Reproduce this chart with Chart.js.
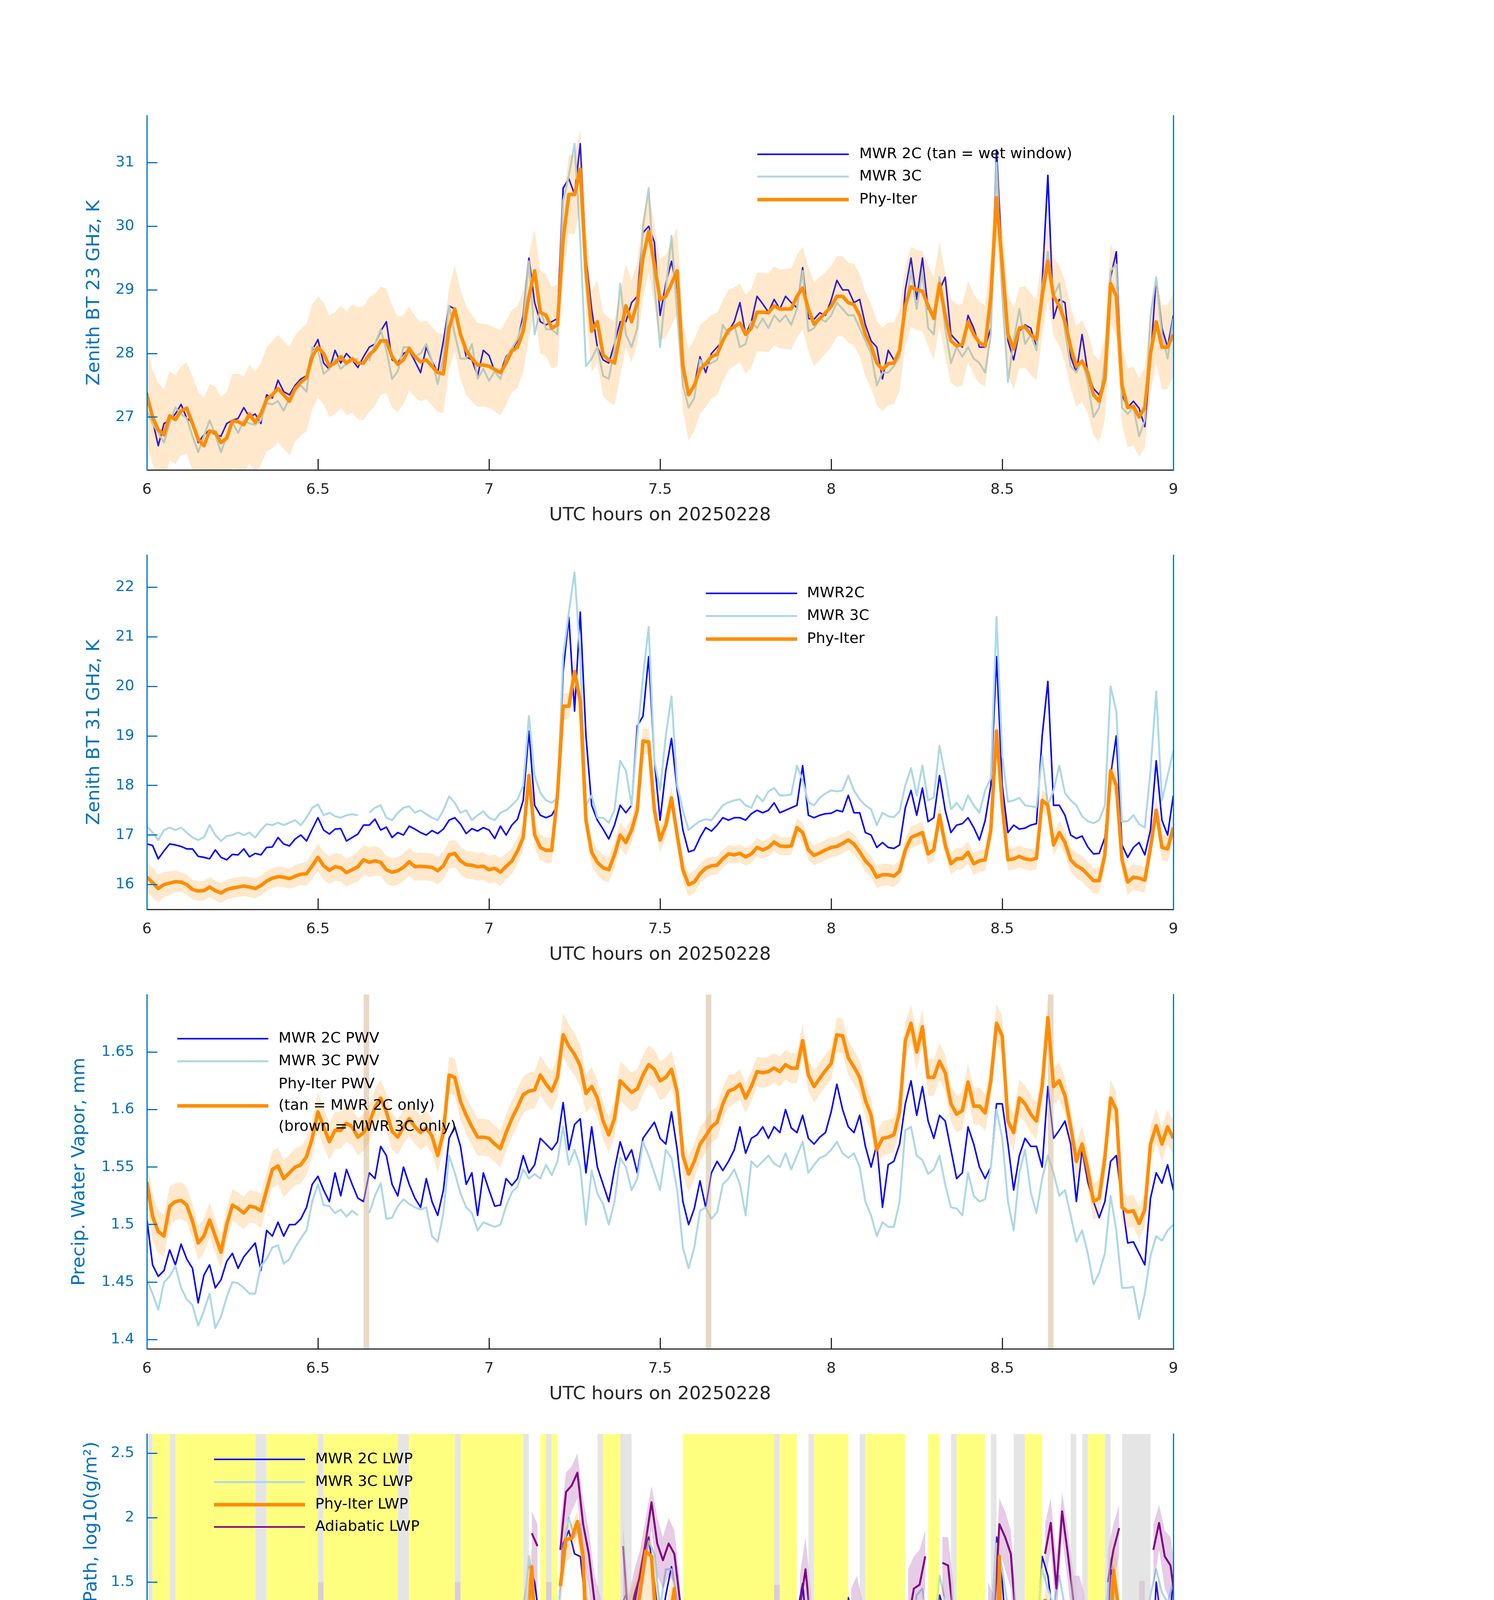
<!DOCTYPE html>
<html><head><meta charset="utf-8">
<script src="https://cdn.jsdelivr.net/npm/chart.js@4.4.1/dist/chart.umd.min.js"></script>
<style>
html,body{margin:0;padding:0;background:#fff;}
body{width:3825px;height:6000px;position:relative;overflow:hidden;}
canvas{position:absolute;left:0;}
</style></head><body>
<canvas id="c1" width="3825" height="1202"></canvas>
<canvas id="c2" width="3825" height="1202"></canvas>
<canvas id="c3" width="3825" height="1202"></canvas>
<canvas id="c4" width="3825" height="1202"></canvas>
<canvas id="c5" width="3825" height="1202"></canvas>
<script>
// ---------------- data ----------------
const T0 = 6;          // first sample, UTC hour
const DT = 1 / 60;     // sample step (1 minute) in hours
const X_TICKS = [6, 6.5, 7, 7.5, 8, 8.5, 9];
const X_TITLE = 'UTC hours on 20250228';

// Panel 1: zenith BT 23 GHz
const P1_Y = [26.17, 31.74];
const P1_TICKS = [27, 28, 29, 30, 31];
const P1_PHY = [27.35,27.0,26.8,26.72,27.02,26.96,27.10,27.14,26.9,26.65,
 26.55,26.78,26.76,26.6,26.67,26.94,26.93,26.88,27.05,26.92,
 27.05,27.28,27.35,27.45,27.35,27.25,27.45,27.55,27.62,27.95,
 28.10,28.0,27.8,27.85,27.95,27.85,27.92,27.85,27.85,27.98,
 28.06,28.2,28.2,27.95,27.83,27.9,28.08,27.95,27.87,27.9,
 27.8,27.7,27.68,28.4,28.7,28.3,28.05,27.92,27.82,27.82,
 27.8,27.75,27.7,27.85,28.04,28.1,28.35,28.9,29.3,28.65,
 28.6,28.4,28.45,29.8,30.5,30.5,30.9,29.3,28.35,28.5,
 27.98,27.9,27.85,28.3,28.75,28.5,28.8,29.5,29.92,29.4,
 28.85,28.9,29.1,29.3,27.8,27.35,27.5,27.75,27.84,27.95,
 27.99,28.2,28.37,28.42,28.48,28.3,28.4,28.65,28.65,28.64,
 28.75,28.7,28.7,28.7,28.9,29.03,28.7,28.46,28.55,28.64,
 28.74,28.9,28.9,28.8,28.77,28.6,28.3,28.12,27.85,27.75,
 27.84,27.85,28.05,28.75,29.05,29.0,28.98,28.75,28.55,29.1,
 28.6,28.2,28.12,28.14,28.5,28.3,28.17,28.12,28.9,30.45,
 29.4,28.3,28.07,28.4,28.42,28.3,28.22,28.9,29.45,28.9,
 28.75,28.5,28.1,27.8,27.88,27.7,27.35,27.25,27.6,29.1,
 28.9,27.5,27.15,27.17,27.0,27.15,28.0,28.5,28.1,28.1,28.3];
const P1_SIG = [0.75,0.75,0.74,0.72,0.7,0.7,0.7,0.72,0.74,0.75,
 0.75,0.74,0.72,0.72,0.72,0.74,0.75,0.76,0.78,0.8,
 0.8,0.82,0.84,0.85,0.85,0.85,0.84,0.84,0.84,0.82,
 0.8,0.8,0.8,0.8,0.8,0.82,0.85,0.88,0.9,0.9,
 0.88,0.85,0.82,0.8,0.75,0.7,0.66,0.64,0.62,0.62,
 0.62,0.62,0.62,0.64,0.68,0.7,0.7,0.68,0.66,0.65,
 0.65,0.66,0.67,0.66,0.65,0.64,0.64,0.65,0.66,0.65,
 0.64,0.64,0.64,0.62,0.62,0.62,0.62,0.63,0.64,0.65,
 0.66,0.66,0.66,0.66,0.65,0.64,0.64,0.64,0.63,0.63,
 0.64,0.65,0.66,0.68,0.7,0.72,0.72,0.7,0.68,0.66,
 0.65,0.64,0.63,0.62,0.62,0.62,0.62,0.62,0.62,0.62,
 0.62,0.62,0.63,0.64,0.65,0.65,0.66,0.66,0.65,0.64,
 0.64,0.63,0.63,0.63,0.64,0.65,0.66,0.66,0.66,0.66,
 0.65,0.64,0.64,0.63,0.63,0.63,0.63,0.64,0.65,0.66,
 0.66,0.66,0.65,0.64,0.64,0.64,0.64,0.64,0.63,0.62,
 0.62,0.63,0.64,0.64,0.64,0.64,0.64,0.63,0.62,0.62,
 0.63,0.64,0.64,0.64,0.64,0.64,0.64,0.64,0.64,0.63,
 0.62,0.62,0.62,0.62,0.62,0.63,0.64,0.65,0.66,0.66,0.66];
const P1_2C = [27.4,26.95,26.55,26.9,26.95,27.05,27.2,26.98,26.92,26.6,
 26.72,26.8,26.72,26.7,26.9,26.95,26.98,27.15,27.0,27.05,
 26.9,27.35,27.3,27.58,27.4,27.35,27.5,27.6,27.65,28.05,
 28.22,27.85,27.75,28.05,27.85,28.0,27.9,27.78,27.95,28.1,
 28.15,28.35,28.5,27.9,27.85,28.0,28.05,27.88,27.7,28.1,
 27.88,27.7,28.2,28.75,28.7,28.35,27.95,27.9,27.65,28.05,
 27.97,27.72,27.7,27.95,28.05,28.2,28.6,29.5,28.8,28.5,
 28.45,28.5,28.55,30.6,30.75,30.5,31.3,29.5,28.7,28.1,
 27.9,27.85,28.15,28.5,28.5,28.8,28.9,29.9,30.0,29.75,
 28.6,29.1,29.45,29.0,27.9,27.35,27.5,27.95,27.7,28.0,
 28.1,28.2,28.35,28.5,28.8,28.3,28.5,28.9,28.78,28.65,
 28.85,28.7,28.9,28.8,28.72,29.35,28.55,28.54,28.64,28.6,
 28.84,29.15,29.0,29.0,28.8,28.85,28.45,28.2,28.1,27.6,
 28.05,27.9,27.95,29.0,29.5,28.85,29.5,28.7,28.63,29.0,
 29.2,28.3,28.2,28.1,28.6,28.4,28.1,28.1,28.4,31.2,
 29.4,28.2,27.9,28.35,28.45,28.4,28.1,29.1,30.8,28.55,
 28.85,28.8,27.95,27.7,28.3,27.7,27.45,27.35,27.6,29.2,
 29.6,27.35,27.15,27.25,27.14,26.85,27.9,29.2,28.4,28.1,28.6];
const P1_3C = [27.1,26.9,26.75,26.6,26.9,27.15,27.05,26.98,26.7,26.45,
 26.7,26.95,26.72,26.45,26.7,26.92,26.75,26.95,26.9,26.88,
 26.95,27.22,27.2,27.25,27.1,27.3,27.42,27.5,27.4,28.1,
 28.05,27.68,27.76,27.92,27.76,27.84,27.88,27.92,null,27.88,
 28.15,28.38,28.05,27.6,27.72,28.1,28.1,27.95,28.0,28.15,
 27.88,27.52,27.96,28.75,28.3,27.92,27.92,28.15,27.6,27.76,
 27.57,27.72,27.6,27.92,28.08,28.23,28.5,29.45,28.3,28.7,
 28.38,28.38,28.3,30.4,30.8,31.3,29.8,27.8,27.92,28.1,
 27.65,27.6,28.08,29.1,28.3,28.1,28.4,30.0,30.6,29.1,
 28.1,29.0,29.85,28.6,27.5,27.15,27.3,27.9,27.8,27.85,
 27.9,28.45,28.3,28.45,28.1,28.15,28.5,28.4,28.55,28.4,
 28.6,28.5,28.6,28.45,28.7,29.3,28.35,28.4,28.55,28.5,
 28.6,28.8,28.7,28.6,28.6,28.4,28.2,28.0,27.5,27.7,
 27.7,27.8,27.95,28.7,29.3,28.7,29.3,28.4,28.3,29.2,
 28.4,27.85,28.1,27.95,28.1,27.92,27.85,27.7,28.3,31.0,
 28.9,27.55,28.2,28.7,28.15,28.3,28.05,29.05,29.6,28.9,
 29.1,28.35,27.8,27.7,27.9,27.55,27.0,27.15,27.9,29.3,
 29.4,27.15,27.05,27.15,26.7,26.95,28.6,29.2,28.3,27.92,28.55];

// Panel 2: zenith BT 31 GHz
const P2_Y = [15.50, 22.65];
const P2_TICKS = [16, 17, 18, 19, 20, 21, 22];
const P2_PHY = [16.15,16.04,15.92,16.0,16.03,16.06,16.05,16.0,15.9,15.87,
 15.88,15.95,15.88,15.83,15.9,15.93,15.95,15.97,15.95,15.92,
 15.98,16.07,16.13,16.16,16.15,16.12,16.17,16.21,16.22,16.38,
 16.55,16.38,16.29,16.36,16.34,16.24,16.3,16.36,16.5,16.45,
 16.48,16.45,16.3,16.25,16.28,16.35,16.46,16.36,16.37,16.36,
 16.35,16.28,16.38,16.6,16.63,16.48,16.4,16.39,16.36,16.37,
 16.3,16.33,16.25,16.37,16.47,16.68,16.95,18.2,17.0,16.75,
 16.69,16.69,17.8,19.6,19.6,20.3,19.7,17.3,16.65,16.45,
 16.34,16.3,16.6,17.0,16.85,17.1,17.5,18.9,18.88,17.5,
 16.9,17.2,17.75,17.0,16.3,16.0,16.05,16.22,16.33,16.38,
 16.39,16.52,16.62,16.6,16.63,16.56,16.62,16.75,16.7,16.75,
 16.86,16.78,16.77,16.78,17.15,17.05,16.7,16.59,16.64,16.7,
 16.75,16.77,16.83,16.9,16.82,16.66,16.48,16.36,16.15,16.2,
 16.2,16.17,16.27,16.7,16.95,17.0,17.05,16.62,16.7,17.4,
 16.8,16.42,16.52,16.53,16.65,16.42,16.48,16.5,17.1,19.1,
 17.6,16.5,16.52,16.57,16.52,16.5,16.53,17.7,17.6,16.8,
 17.05,16.85,16.5,16.38,16.32,16.2,16.08,16.08,16.6,18.3,
 18.0,16.5,16.05,16.15,16.13,16.09,16.75,17.5,16.75,16.72,17.15];
const P2_SIG = [0.3,0.3,0.28,0.25,0.24,0.22,0.2,0.2,0.2,0.2,
 0.2,0.2,0.2,0.2,0.2,0.2,0.2,0.2,0.2,0.2,
 0.2,0.2,0.2,0.2,0.2,0.2,0.22,0.22,0.24,0.26,
 0.28,0.28,0.28,0.28,0.28,0.28,0.28,0.3,0.3,0.3,
 0.3,0.28,0.28,0.28,0.28,0.28,0.28,0.28,0.28,0.28,
 0.28,0.28,0.28,0.28,0.28,0.28,0.28,0.28,0.28,0.28,
 0.28,0.28,0.28,0.26,0.26,0.26,0.26,0.26,0.26,0.26,
 0.26,0.26,0.26,0.26,0.26,0.26,0.26,0.26,0.26,0.26,
 0.26,0.26,0.26,0.26,0.26,0.26,0.26,0.26,0.26,0.26,
 0.26,0.24,0.24,0.24,0.24,0.24,0.22,0.2,0.2,0.18,
 0.18,0.18,0.18,0.18,0.18,0.18,0.18,0.18,0.18,0.18,
 0.18,0.18,0.18,0.18,0.18,0.2,0.2,0.2,0.2,0.2,
 0.2,0.2,0.2,0.2,0.2,0.2,0.22,0.22,0.22,0.22,
 0.22,0.22,0.22,0.22,0.22,0.22,0.22,0.22,0.22,0.22,
 0.22,0.22,0.22,0.22,0.22,0.22,0.22,0.22,0.22,0.22,
 0.22,0.22,0.22,0.22,0.22,0.22,0.22,0.22,0.22,0.22,
 0.24,0.24,0.24,0.26,0.26,0.26,0.26,0.26,0.26,0.26,
 0.26,0.26,0.26,0.26,0.26,0.26,0.26,0.26,0.26,0.26,0.26];
const P2_2C = [16.82,16.79,16.52,16.68,16.82,16.8,16.77,16.72,16.72,16.57,
 16.55,16.52,16.7,16.55,16.5,16.61,16.6,16.72,16.56,16.63,
 16.6,16.75,16.76,16.95,16.82,16.78,16.92,17.0,16.88,17.12,
 17.35,17.1,17.02,17.12,17.13,16.88,16.95,17.02,17.2,17.2,
 17.32,17.1,17.16,16.95,17.05,17.0,17.18,17.12,17.05,17.0,
 17.09,17.03,17.12,17.3,17.35,17.22,17.03,17.13,17.08,17.15,
 17.1,16.93,17.18,17.0,17.2,17.32,17.7,19.1,17.6,17.4,
 17.35,17.4,17.6,20.3,21.4,19.5,21.5,19.0,17.6,17.3,
 17.12,16.92,17.2,17.6,17.45,17.6,19.2,19.4,20.6,18.5,
 17.3,18.3,18.95,17.9,17.1,16.66,16.7,16.95,17.15,17.08,
 17.2,17.35,17.3,17.35,17.35,17.3,17.43,17.5,17.45,17.5,
 17.65,17.45,17.5,17.55,17.6,18.4,17.4,17.35,17.4,17.43,
 17.44,17.5,17.47,17.8,17.45,17.45,17.05,17.0,16.75,16.85,
 16.75,16.73,16.8,17.55,17.9,17.4,17.95,17.27,17.35,18.2,
 17.5,17.05,17.2,17.23,17.35,17.15,16.9,17.29,18.0,20.6,
 18.0,17.05,17.2,17.12,17.14,17.2,17.23,19.0,20.1,17.6,
 17.6,17.4,17.0,16.93,16.98,16.76,16.62,16.63,16.95,18.2,
 19.0,16.8,16.55,16.75,16.85,16.6,17.1,18.5,17.3,17.0,17.8];
const P2_3C = [17.18,17.05,16.9,17.1,17.15,17.1,17.15,17.05,16.95,16.9,
 16.95,17.2,17.0,16.88,16.98,17.0,17.05,17.0,17.05,16.95,
 17.1,17.22,17.2,17.25,17.2,17.25,17.3,17.2,17.35,17.55,
 17.62,17.4,17.45,17.38,17.35,17.4,17.42,17.4,null,17.45,
 17.55,17.6,17.35,17.3,17.45,17.55,17.58,17.45,17.5,17.42,
 17.35,17.3,17.5,17.78,17.65,17.45,17.5,17.3,17.4,17.48,
 17.35,17.3,17.45,17.5,17.6,17.72,18.0,19.4,18.2,17.85,
 17.7,17.65,17.75,20.6,21.5,22.3,20.6,17.6,17.8,17.35,
 17.35,17.25,17.5,18.5,18.3,17.6,19.0,20.2,21.2,18.5,
 17.9,19.0,19.8,18.0,17.5,17.1,17.2,17.28,17.32,17.3,
 17.45,17.6,17.66,17.7,17.72,17.6,17.55,17.8,17.68,17.88,
 17.95,17.8,17.8,17.82,18.4,18.1,17.66,17.6,17.75,17.84,
 17.9,17.88,17.9,18.2,17.9,17.72,17.6,17.52,17.2,17.45,
 17.38,17.36,17.48,18.0,18.35,17.8,18.4,17.7,17.76,18.8,
 18.2,17.52,17.65,17.5,17.8,17.6,17.45,17.9,18.15,21.4,
 18.6,17.67,17.7,17.75,17.6,17.58,17.56,18.6,17.6,17.9,
 18.4,17.85,17.7,17.6,17.38,17.28,17.24,17.3,17.6,20.0,
 19.5,17.27,17.28,17.4,17.22,17.15,18.3,19.9,17.7,18.2,18.7];

// Panel 3: precipitable water vapour
const P3_Y = [1.392, 1.70];
const P3_TICKS = [1.4, 1.45, 1.5, 1.55, 1.6, 1.65];
const P3_WET_K = [38, 98, 158];   // minutes with MWR 2C only (tan)
const P3_PHY = [1.537,1.507,1.494,1.49,1.516,1.520,1.521,1.517,1.503,1.484,
 1.49,1.504,1.49,1.476,1.50,1.517,1.514,1.51,1.516,1.515,
 1.512,1.53,1.548,1.551,1.54,1.545,1.55,1.552,1.559,1.575,
 1.598,1.585,1.572,1.582,1.582,1.588,1.585,1.576,1.58,1.588,
 1.602,1.61,1.598,1.581,1.576,1.585,1.592,1.585,1.58,1.584,
 1.577,1.56,1.58,1.63,1.628,1.607,1.595,1.585,1.576,1.576,
 1.575,1.570,1.566,1.58,1.592,1.602,1.613,1.616,1.617,1.63,
 1.622,1.616,1.628,1.665,1.655,1.648,1.638,1.614,1.62,1.61,
 1.59,1.578,1.592,1.625,1.62,1.615,1.618,1.63,1.639,1.635,
 1.625,1.628,1.635,1.615,1.56,1.544,1.555,1.57,1.577,1.585,
 1.589,1.605,1.616,1.618,1.622,1.61,1.62,1.633,1.632,1.633,
 1.636,1.633,1.639,1.636,1.636,1.66,1.63,1.62,1.627,1.634,
 1.64,1.665,1.664,1.645,1.637,1.628,1.608,1.595,1.565,1.575,
 1.576,1.578,1.598,1.66,1.675,1.65,1.672,1.628,1.628,1.642,
 1.632,1.605,1.596,1.599,1.624,1.603,1.603,1.597,1.625,1.675,
 1.664,1.59,1.58,1.61,1.605,1.596,1.59,1.62,1.68,1.62,
 1.625,1.612,1.585,1.555,1.57,1.548,1.52,1.523,1.558,1.61,
 1.6,1.515,1.511,1.512,1.501,1.513,1.57,1.586,1.57,1.585,1.575];
const P3_SIG = [0.02,0.02,0.019,0.018,0.017,0.016,0.016,0.015,0.015,0.015,
 0.015,0.015,0.015,0.014,0.014,0.014,0.014,0.014,0.014,0.014,
 0.015,0.015,0.016,0.016,0.016,0.016,0.016,0.016,0.016,0.016,
 0.017,0.017,0.016,0.016,0.016,0.016,0.016,0.016,0.016,0.016,
 0.016,0.016,0.016,0.016,0.015,0.015,0.015,0.015,0.015,0.015,
 0.015,0.015,0.015,0.016,0.016,0.016,0.016,0.016,0.016,0.016,
 0.016,0.016,0.016,0.016,0.016,0.016,0.016,0.016,0.016,0.017,
 0.017,0.017,0.018,0.019,0.019,0.018,0.018,0.017,0.017,0.016,
 0.016,0.016,0.016,0.017,0.017,0.017,0.017,0.017,0.017,0.017,
 0.017,0.017,0.016,0.016,0.016,0.016,0.015,0.015,0.014,0.014,
 0.014,0.014,0.014,0.013,0.013,0.013,0.013,0.013,0.013,0.013,
 0.013,0.013,0.013,0.013,0.013,0.014,0.014,0.014,0.014,0.014,
 0.014,0.015,0.015,0.015,0.015,0.015,0.015,0.015,0.015,0.015,
 0.015,0.015,0.015,0.016,0.016,0.016,0.016,0.016,0.016,0.016,
 0.016,0.016,0.016,0.016,0.016,0.016,0.016,0.016,0.016,0.017,
 0.017,0.016,0.016,0.016,0.016,0.016,0.016,0.016,0.017,0.016,
 0.016,0.016,0.016,0.016,0.016,0.016,0.016,0.016,0.016,0.016,
 0.015,0.014,0.014,0.014,0.014,0.014,0.015,0.015,0.015,0.015,0.015];
const P3_2C = [1.505,1.465,1.455,1.46,1.478,1.465,1.483,1.47,1.462,1.432,
 1.456,1.465,1.445,1.452,1.468,1.475,1.462,1.472,1.478,1.484,
 1.46,1.495,1.49,1.502,1.49,1.5,1.5,1.505,1.515,1.535,
 1.542,1.53,1.52,1.545,1.525,1.548,1.535,1.523,1.52,1.545,
 1.54,1.568,1.56,1.535,1.525,1.55,1.535,1.523,1.515,1.54,
 1.52,1.508,1.53,1.575,1.585,1.568,1.535,1.545,1.508,1.545,
 1.53,1.516,1.517,1.54,1.534,1.54,1.56,1.545,1.552,1.575,
 1.57,1.565,1.572,1.606,1.565,1.587,1.592,1.545,1.585,1.55,
 1.535,1.52,1.548,1.572,1.556,1.565,1.545,1.575,1.582,1.589,
 1.575,1.57,1.598,1.565,1.52,1.5,1.514,1.538,1.515,1.545,
 1.555,1.547,1.555,1.565,1.585,1.562,1.575,1.578,1.585,1.575,
 1.585,1.58,1.6,1.584,1.58,1.595,1.575,1.57,1.576,1.58,
 1.598,1.622,1.6,1.585,1.58,1.595,1.568,1.55,1.57,1.515,
 1.552,1.555,1.57,1.605,1.625,1.595,1.62,1.59,1.575,1.595,
 1.59,1.565,1.54,1.545,1.585,1.57,1.55,1.54,1.55,1.605,
 1.605,1.57,1.53,1.56,1.575,1.568,1.568,1.55,1.62,1.575,
 1.582,1.59,1.57,1.52,1.565,1.537,1.52,1.506,1.52,1.555,
 1.56,1.52,1.484,1.485,1.475,1.465,1.523,1.545,1.536,1.552,1.53];
const P3_3C = [1.452,1.44,1.426,1.45,1.455,1.464,1.445,1.435,1.43,1.412,
 1.425,1.44,1.41,1.42,1.437,1.45,1.449,1.445,1.44,1.44,
 1.464,1.47,1.48,1.482,1.466,1.47,1.48,1.488,1.495,1.52,
 1.535,1.517,1.516,1.51,1.513,1.507,1.512,1.508,null,1.51,
 1.525,1.536,1.505,1.506,1.516,1.522,1.518,1.515,1.513,1.515,
 1.49,1.485,1.51,1.56,1.545,1.527,1.515,1.51,1.495,1.502,
 1.5,1.498,1.5,1.516,1.528,1.533,1.548,1.54,1.544,1.54,
 1.552,1.543,1.555,1.585,1.552,1.565,1.55,1.5,1.547,1.527,
 1.518,1.5,1.52,1.558,1.55,1.53,1.54,1.572,1.56,1.545,
 1.53,1.565,1.558,1.53,1.48,1.462,1.48,1.512,1.515,1.505,
 1.511,1.535,1.54,1.548,1.535,1.508,1.555,1.55,1.555,1.56,
 1.553,1.55,1.562,1.548,1.56,1.572,1.545,1.552,1.558,1.56,
 1.565,1.572,1.562,1.558,1.562,1.55,1.52,1.508,1.49,1.502,
 1.498,1.498,1.52,1.582,1.585,1.56,1.556,1.544,1.548,1.56,
 1.535,1.515,1.514,1.508,1.545,1.525,1.52,1.522,1.55,1.6,
 1.575,1.52,1.495,1.545,1.565,1.528,1.51,1.54,1.56,1.545,
 1.525,1.53,1.508,1.485,1.495,1.475,1.448,1.458,1.475,1.525,
 1.495,1.445,1.445,1.446,1.418,1.44,1.473,1.49,1.486,1.495,1.5];

// Panel 4: log10 liquid water path
const P4_Y = [-0.1, 2.65];
const P4_TICKS = [0, 0.5, 1, 1.5, 2, 2.5];
const P4_2C = [1.0,1.04,0.9,0.95,0.98,1.12,0.95,0.98,0.98,1.0,
 0.92,0.75,1.05,0.82,0.85,0.85,0.9,0.98,0.82,0.78,
 0.85,0.98,0.88,1.05,0.95,0.95,0.92,1.12,0.9,1.08,
 1.15,1.2,1.0,1.0,1.1,0.95,0.62,1.02,1.15,1.08,
 1.15,0.92,0.95,0.8,0.85,0.85,1.05,1.15,0.98,0.8,
 1.0,1.08,1.0,1.02,1.0,1.1,0.98,1.0,1.05,0.92,
 1.0,0.9,1.15,1.0,1.05,1.08,1.28,1.65,1.5,1.15,
 0.98,1.15,1.15,1.8,1.9,1.72,1.7,1.3,1.12,1.05,
 1.0,0.92,1.1,1.3,1.4,1.2,1.45,1.7,1.85,1.5,
 1.1,1.4,1.62,1.35,1.08,0.75,0.7,0.9,1.12,1.04,
 1.0,1.15,1.12,1.1,1.03,1.05,1.2,1.15,1.12,1.14,
 1.15,1.12,1.09,1.2,1.25,1.49,0.98,1.08,1.06,1.04,
 1.0,0.98,1.15,1.38,1.18,1.05,0.9,0.85,0.94,0.8,
 0.65,0.3,0.3,1.18,1.25,1.05,1.3,0.92,1.05,1.4,
 1.25,0.86,1.05,1.08,1.02,0.65,0.75,1.17,1.15,1.85,
 1.5,0.95,0.92,0.96,0.82,0.95,0.98,1.7,1.55,1.2,
 1.05,1.1,0.92,0.79,0.76,0.65,0.62,0.77,0.55,1.6,
 1.45,0.78,0.3,0.9,1.08,0.95,0.6,1.5,1.15,0.95,1.55];
const P4_3C = [1.0,0.9,0.85,0.95,1.0,0.95,1.0,1.0,0.92,0.95,
 1.0,1.05,0.95,0.95,1.0,0.95,0.98,1.02,0.98,0.95,
 0.98,1.0,0.97,0.95,1.05,1.0,0.92,0.88,1.0,1.02,
 1.05,1.0,0.92,0.95,0.95,0.88,0.95,1.0,1.0,0.98,
 0.95,0.97,0.93,0.9,0.98,0.95,1.02,1.0,0.95,0.98,
 1.0,0.9,0.95,1.0,1.02,1.05,1.0,0.97,0.95,1.0,
 1.0,0.95,0.93,1.0,1.05,1.08,1.2,1.7,1.35,1.15,
 1.12,1.2,1.15,1.75,2.0,1.85,1.95,1.4,1.2,1.1,
 1.0,1.02,1.0,1.15,1.35,1.22,1.3,1.6,1.82,1.72,
 1.3,1.6,1.6,1.35,1.12,0.7,0.75,0.9,0.94,0.92,
 0.96,1.02,1.05,1.05,1.04,1.05,1.05,1.06,1.07,1.08,
 1.12,1.15,1.15,1.17,1.35,1.35,1.05,1.09,1.12,1.13,
 1.15,1.15,1.17,1.3,1.1,1.0,1.05,0.97,0.94,0.92,
 0.98,1.0,1.05,1.09,1.12,1.4,1.45,1.1,1.12,1.55,
 1.35,1.13,1.13,1.14,1.16,1.15,1.3,1.1,1.13,1.8,
 1.6,1.3,1.1,1.12,1.08,1.05,1.12,1.6,1.45,1.32,
 1.55,1.3,1.26,1.15,1.1,1.09,1.09,1.09,1.2,1.68,
 1.45,1.13,1.11,1.12,1.1,1.12,1.4,1.6,1.42,1.34,1.5];
// sparse retrievals: [minute, value, lower, upper]; -1 = below axis
const P4_PHY = [
 [[66,1.05,-1,1.45],[67,1.62,0.5,1.78],[68,0.72,-1,1.1]],
 [[72,1.47,1.3,1.7],[73,1.83,1.65,1.95],[74,1.84,1.7,1.95],[75,1.97,1.85,2.05],[76,1.7,1.45,1.85],[77,0.5,-1,1.4],[78,-1.2,-1.2,1.2]],
 [[83,0.9,-1,1.6],[84,0.72,-1,1.4],[85,1.15,-1,1.5],[86,1.43,-1,1.65],[87,1.74,0.9,1.9],[88,1.7,0.6,1.85],[89,1.05,-1,1.5],[90,0.55,-1,1.2],[91,1.15,-1,1.4],[92,1.45,-1,1.6],[93,-1,-1,0.8]],
 [[114,1.0,-1,1.5],[115,0.15,-1,1.2],[116,-1,-1,0.8]],
 [[123,0.67,-1,1.3],[124,-1,-1,1.0]],
 [[134,-1,-1,0.9],[135,0.74,-1,1.2],[136,0.17,-1,1.0]],
 [[139,1.26,-1,1.6],[140,-1,-1,1.0]],
 [[148,-1,-1,0.9],[149,1.7,-1,1.95],[150,-1,-1,1.0]],
 [[157,1.37,-1,1.6],[158,0.49,-1,1.3],[159,-1,-1,1.0],[160,0.77,-1,1.3],[161,-1,-1,0.9]],
 [[164,-1,-1,0.5],[165,0.17,-1,0.6]],
 [[168,0.49,-1,1.0],[169,1.59,0.8,1.8],[170,1.26,0.5,1.6]],
 [[176,0.94,-1,1.3],[177,1.32,-1,1.55],[178,-1,-1,1.0],[179,-1,-1,0.9],[180,1.15,-1,1.5]]
];
const P4_ADI = [
 [[67,1.88,1.55,2.05],[68,1.78,1.4,1.95]],
 [[72,1.75,1.4,1.95],[73,2.2,1.95,2.35],[74,2.25,2.05,2.4],[75,2.35,2.15,2.5],[76,1.95,1.7,2.15],[77,1.72,1.45,1.9],[78,1.35,1.0,1.55],[79,1.2,0.8,1.4],[80,1.02,0.55,1.2]],
 [[83,1.78,1.4,1.95],[84,1.15,0.9,1.4],[85,1.4,1.1,1.6],[86,1.55,1.3,1.75],[87,1.82,1.6,2.0],[88,2.12,1.9,2.25],[89,1.8,1.55,2.0],[90,1.67,1.45,1.85],[91,1.8,1.55,2.0],[92,1.72,1.5,1.9],[93,1.35,1.1,1.5]],
 [[114,1.3,1.0,1.55],[115,1.6,1.3,1.85],[116,1.15,0.8,1.4]],
 [[123,1.2,0.9,1.45],[124,1.33,1.05,1.55],[125,1.15,0.85,1.35]],
 [[133,1.2,0.9,1.6],[134,1.45,1.2,1.7],[135,1.48,1.2,1.75],[136,1.7,1.45,1.9]],
 [[139,1.65,1.4,1.85],[140,1.63,1.35,1.85],[141,1.2,0.9,1.45]],
 [[147,1.28,1.0,1.5],[148,1.15,0.85,1.4],[149,1.95,1.75,2.15],[150,1.85,1.6,2.05],[151,1.72,1.45,1.9],[152,1.13,0.8,1.35],[153,1.13,0.8,1.35]],
 [[157,1.72,1.5,1.95],[158,1.96,1.75,2.15],[159,1.45,1.2,1.7],[160,2.05,1.85,2.2],[161,1.72,1.5,1.9],[162,1.35,1.1,1.55],[163,1.32,1.05,1.55],[164,1.15,0.85,1.4]],
 [[168,1.5,1.2,1.75],[169,1.75,1.5,1.95],[170,1.92,1.7,2.1]],
 [[176,1.75,1.45,1.95],[177,1.96,1.75,2.1],[178,1.7,1.45,1.9],[179,1.63,1.35,1.85],[180,1.3,1.0,1.55]]
];
// isolated points: [minute, adiabatic, adi lower, adi upper, phy-iter, phy upper]
const P4_ISO = [[30,1.15,0.55,1.5,null,0.55],[54,1.15,0.55,1.5,null,0.55],
 [70,1.15,0.55,1.5,0.11,0.55],[110,1.13,0.53,1.48,0.62,0.53],[174,1.16,0.57,1.51,null,0.57]];

// Panel 5: Phy-Iter DQ flag (one per minute)
const P5_Y = [-0.5, 11.5];
const P5_TICKS = [0, 2, 4, 6, 8, 10];
const FLAG = [3,5,5,5,3,5,5,5,5,5,
 5,5,5,5,5,5,5,5,5,3,
 3,5,5,5,5,5,5,5,5,5,
 4,5,5,5,5,5,5,5,5,5,
 5,5,5,5,3,3,5,5,5,5,
 5,5,5,5,4,5,5,5,5,5,
 5,5,5,5,5,5,4,0,0,5,
 4,5,0,0,0,0,0,0,0,4,
 5,5,5,3,4,0,0,0,0,0,
 0,0,0,0,5,5,5,5,5,5,
 5,5,5,5,5,5,5,5,5,5,
 4,5,5,5,0,0,4,5,5,5,
 5,5,5,0,0,4,5,5,5,5,
 5,5,5,0,0,0,0,5,5,0,
 0,4,5,5,5,5,5,0,4,0,
 0,0,4,4,5,5,5,0,0,0,
 0,0,4,0,6,5,5,5,3,0,
 0,3,3,3,4,3,0,0,0,0,0];
const FLAG_EXTRA = [[164, 4]];

// ---------------- styling / layout ----------------
const C_AX = 'rgb(0,114,189)', C_DARK = '#262626';
const C_2C = 'rgb(0,0,255)', C_3C = 'rgb(173,216,230)';
const C_PHY = 'rgb(255,140,0)', C_BAND = 'rgba(255,140,0,0.2)';
const C_ADI = 'rgb(128,0,128)', C_ADIBAND = 'rgba(128,0,128,0.2)';
const C_WET = 'rgba(210,180,140,0.5)';
const C_YEL = 'rgba(255,255,0,0.5)', C_GRY = 'rgba(204,204,204,0.5)';
const PANEL_TOP = [296, 1421, 2546, 3671, 4796];
const X_LEFT = 376, X_RIGHT = 3004, PAD_TOP = 150, XAXIS_H = 145, CANVAS_H = 1202;

Chart.defaults.font.family = "'DejaVu Sans', sans-serif";

// ---------------- helpers ----------------
const tk = k => T0 + k * DT;
const fmt = v => String(Math.round(v * 1000) / 1000);
const series = arr => arr.map((v, k) => ({x: tk(k), y: v}));
const shifted = (arr, sig, s) => arr.map((v, k) => ({x: tk(k), y: v == null ? null : v + s * sig[k]}));
function sparse(segs, col) {
  const out = [];
  segs.forEach((seg, si) => {
    if (si > 0) out.push({x: tk(seg[0][0]), y: null});
    seg.forEach(r => out.push({x: tk(r[0] + 0.5), y: r[col]}));
  });
  return out;
}
function spanRects(ks, yv) {
  const out = [];
  let i = 0;
  while (i < ks.length) {
    let j = i;
    while (j + 1 < ks.length && ks[j + 1] === ks[j] + 1) j++;
    if (out.length) out.push({x: tk(ks[i]) - 1e-6, y: null});
    out.push({x: tk(ks[i]), y: yv}, {x: tk(ks[j] + 1), y: yv});
    i = j + 1;
  }
  return out;
}
function rowRects(rows, col) {
  const out = [];
  rows.forEach((r, i) => {
    if (i) out.push({x: tk(r[0]) - 1e-6, y: null});
    out.push({x: tk(r[0]), y: r[col]}, {x: tk(r[0] + 1), y: r[col]});
  });
  return out;
}
const lineDs = (data, color, width, order) => ({data, borderColor: color, borderWidth: width, order, pointRadius: 0, fill: false});
const fillDs = (data, fill, bg, order) => ({data, borderColor: 'rgba(0,0,0,0)', borderWidth: 0, backgroundColor: bg, fill, order, pointRadius: 0});

function legendPlugin(cfg, canvasTop) {
  return {
    id: 'pageLegend',
    afterDraw(chart) {
      const ctx = chart.ctx;
      ctx.save();
      ctx.font = '38px "DejaVu Sans"';
      ctx.textBaseline = 'middle';
      ctx.textAlign = 'left';
      ctx.fillStyle = '#000';
      cfg.items.forEach(it => {
        const y = it.y - canvasTop;
        if (it.color) {
          ctx.beginPath();
          ctx.strokeStyle = it.color; ctx.lineWidth = it.w;
          ctx.moveTo(cfg.x0, y); ctx.lineTo(cfg.x1, y); ctx.stroke();
        }
        ctx.fillText(it.text, cfg.tx, y);
      });
      ctx.restore();
    }
  };
}

function makeChart(n, yr, yticks, ytitle, lp, datasets, legend) {
  const canvas = document.getElementById('c' + (n + 1));
  const top = PANEL_TOP[n] - PAD_TOP;
  canvas.style.top = top + 'px';
  canvas.style.width = '3825px';
  canvas.style.height = CANVAS_H + 'px';
  const plugins = legend ? [legendPlugin(legend, top)] : [];
  return new Chart(canvas, {
    type: 'line',
    data: {datasets},
    plugins,
    options: {
      responsive: false, animation: false, devicePixelRatio: 1, events: [],
      layout: {padding: {left: lp, right: 3825 - X_RIGHT, top: PAD_TOP, bottom: 0}},
      plugins: {legend: {display: false}, tooltip: {enabled: false}},
      elements: {line: {tension: 0, borderJoinStyle: 'round', borderCapStyle: 'butt'}, point: {radius: 0}},
      scales: {
        x: {
          type: 'linear', position: 'bottom', min: 6, max: 9,
          afterBuildTicks: s => { s.ticks = X_TICKS.map(v => ({value: v})); },
          afterFit: s => { s.height = XAXIS_H; },
          ticks: {color: C_DARK, font: {size: 38}, padding: 56, maxRotation: 0, autoSkip: false, callback: fmt, z: 1},
          grid: {display: true, drawOnChartArea: false, drawTicks: true, tickLength: -28, color: C_DARK, lineWidth: 3, z: 1},
          border: {display: true, color: C_DARK, width: 3, z: 1},
          title: {display: true, text: X_TITLE, color: C_DARK, font: {size: 47}, padding: 0}
        },
        y: {
          type: 'linear', position: 'left', min: yr[0], max: yr[1],
          afterBuildTicks: s => { s.ticks = yticks.map(v => ({value: v})); },
          afterFit: s => { s.width = X_LEFT - lp; },
          ticks: {color: C_AX, font: {size: 38}, padding: 59, autoSkip: false, callback: fmt, z: 1},
          grid: {display: true, drawOnChartArea: false, drawTicks: true, tickLength: -27, color: C_AX, lineWidth: 3, z: 1},
          border: {display: true, color: C_AX, width: 3, z: 1},
          title: {display: true, text: ytitle, color: C_AX, font: {size: 47}, padding: 0}
        },
        yR: {
          type: 'linear', position: 'right', min: yr[0], max: yr[1],
          afterFit: s => { s.width = 0; },
          ticks: {display: false},
          grid: {display: false},
          border: {display: true, color: C_AX, width: 3, z: 1}
        }
      }
    }
  });
}

// ---------------- panel 1 ----------------
makeChart(0, P1_Y, P1_TICKS, 'Zenith BT 23 GHz, K', 214, [
  lineDs(series(P1_PHY), C_PHY, 9, 1),
  fillDs(shifted(P1_PHY, P1_SIG, 1), '+1', C_BAND, 2),
  fillDs(shifted(P1_PHY, P1_SIG, -1), false, C_BAND, 2),
  lineDs(series(P1_3C), C_3C, 5, 3),
  lineDs(series(P1_2C), C_2C, 4, 4)
], {x0: 1939, x1: 2173, tx: 2200, items: [
  {text: 'MWR 2C (tan = wet window)', color: C_2C, w: 4, y: 395},
  {text: 'MWR 3C', color: C_3C, w: 5, y: 452},
  {text: 'Phy-Iter', color: C_PHY, w: 9, y: 511}]});

// ---------------- panel 2 ----------------
makeChart(1, P2_Y, P2_TICKS, 'Zenith BT 31 GHz, K', 214, [
  lineDs(series(P2_PHY), C_PHY, 9, 1),
  fillDs(shifted(P2_PHY, P2_SIG, 1), '+1', C_BAND, 2),
  fillDs(shifted(P2_PHY, P2_SIG, -1), false, C_BAND, 2),
  lineDs(series(P2_3C), C_3C, 5, 3),
  lineDs(series(P2_2C), C_2C, 4, 4)
], {x0: 1807, x1: 2041, tx: 2066, items: [
  {text: 'MWR2C', color: C_2C, w: 4, y: 1519},
  {text: 'MWR 3C', color: C_3C, w: 5, y: 1577},
  {text: 'Phy-Iter', color: C_PHY, w: 9, y: 1636}]});

// ---------------- panel 3 ----------------
makeChart(2, P3_Y, P3_TICKS, 'Precip. Water Vapor, mm', 176, [
  lineDs(series(P3_PHY), C_PHY, 9, 1),
  fillDs(shifted(P3_PHY, P3_SIG, 1), '+1', C_BAND, 2),
  fillDs(shifted(P3_PHY, P3_SIG, -1), false, C_BAND, 2),
  fillDs(spanRects(P3_WET_K, P3_Y[1]), 'start', C_WET, 3),
  lineDs(series(P3_3C), C_3C, 5, 4),
  lineDs(series(P3_2C), C_2C, 4, 5)
], {x0: 454, x1: 687, tx: 713, items: [
  {text: 'MWR 2C PWV', color: C_2C, w: 4, y: 2659},
  {text: 'MWR 3C PWV', color: C_3C, w: 5, y: 2717},
  {text: 'Phy-Iter PWV', y: 2776},
  {text: '(tan = MWR 2C only)', color: C_PHY, w: 9, y: 2831},
  {text: '(brown = MWR 3C only)', y: 2885}]});

// ---------------- panel 4 ----------------
const YELLOW_K = FLAG.map((f, k) => f === 5 ? k : -1).filter(k => k >= 0);
const GREY_K = FLAG.map((f, k) => (f === 3 || f === 4 || f === 6) ? k : -1).filter(k => k >= 0);
const adiMarks = P4_ISO.map(r => ({x: tk(r[0] + 0.5), y: r[1]}));
const phyMarks = P4_ISO.filter(r => r[4] != null).map(r => ({x: tk(r[0] + 0.5), y: r[4]}));
makeChart(3, P4_Y, P4_TICKS, 'log10 Liquid Water Path, log10(g/m²)', 207, [
  fillDs(spanRects(YELLOW_K, P4_Y[1]), 'start', C_YEL, 0),
  fillDs(spanRects(GREY_K, P4_Y[1]), 'start', C_GRY, 0),
  {data: adiMarks, showLine: false, pointStyle: 'crossRot', pointRadius: 12, pointBorderWidth: 6, borderColor: C_ADI, pointBorderColor: C_ADI, order: 1},
  {data: phyMarks, showLine: false, pointStyle: 'crossRot', pointRadius: 12, pointBorderWidth: 6, borderColor: C_PHY, pointBorderColor: C_PHY, order: 1},
  lineDs(sparse(P4_PHY, 1), C_PHY, 9, 2),
  fillDs(sparse(P4_PHY, 3), '+1', C_BAND, 3),
  fillDs(sparse(P4_PHY, 2), false, C_BAND, 3),
  lineDs(sparse(P4_ADI, 1), C_ADI, 5, 4),
  fillDs(sparse(P4_ADI, 3), '+1', C_ADIBAND, 5),
  fillDs(sparse(P4_ADI, 2), false, C_ADIBAND, 5),
  fillDs(rowRects(P4_ISO, 3), '+1', C_ADIBAND, 6),
  fillDs(rowRects(P4_ISO, 2), false, C_ADIBAND, 6),
  fillDs(rowRects(P4_ISO, 5), 'start', C_BAND, 6),
  lineDs(series(P4_3C), C_3C, 5, 7),
  lineDs(series(P4_2C), C_2C, 4, 8)
], {x0: 548, x1: 781, tx: 807, items: [
  {text: 'MWR 2C LWP', color: C_2C, w: 4, y: 3736},
  {text: 'MWR 3C LWP', color: C_3C, w: 5, y: 3794},
  {text: 'Phy-Iter LWP', color: C_PHY, w: 9, y: 3852},
  {text: 'Adiabatic LWP', color: C_ADI, w: 4, y: 3909}]});

// ---------------- panel 5 ----------------
const flagPts = FLAG.map((f, k) => [k, f]).concat(FLAG_EXTRA)
  .sort((a, b) => a[0] - b[0]).map(p => ({x: tk(p[0] + 0.5), y: p[1]}));
makeChart(4, P5_Y, P5_TICKS, 'MWR Phy Iter DQ Flag', 216, [
  {data: flagPts, showLine: false, pointStyle: 'circle', pointRadius: 5, pointBorderWidth: 0,
   pointBackgroundColor: C_PHY, backgroundColor: C_PHY, borderColor: C_PHY, order: 1}
], null);
</script>
</body></html>
